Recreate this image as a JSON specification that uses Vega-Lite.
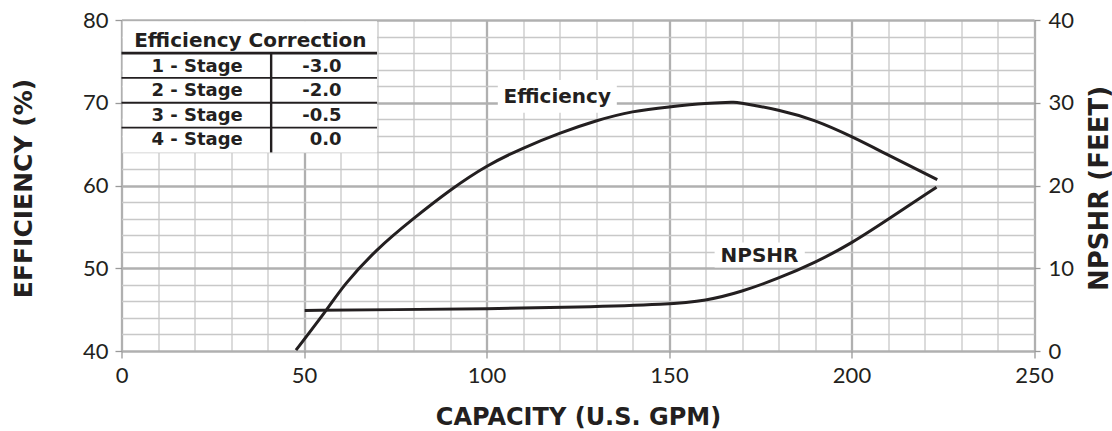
{
  "$schema": "https://vega.github.io/schema/vega-lite/v6.json",
  "width": 912.5,
  "height": 331,
  "autosize": {"type": "none"},
  "padding": {"left": 121.5, "top": 20, "right": 78, "bottom": 80},
  "background": "white",
  "config": {
    "view": {"stroke": null},
    "text": {"font": "DejaVu Sans", "fontWeight": "bold", "color": "#231f20"}
  },
  "datasets": {
    "efficiency": [
      {"gpm": 47.8, "eff": 40.1},
      {"gpm": 56.2, "eff": 45.0},
      {"gpm": 61.6, "eff": 48.2},
      {"gpm": 70, "eff": 52.2},
      {"gpm": 80, "eff": 56.0},
      {"gpm": 90, "eff": 59.4},
      {"gpm": 100, "eff": 62.3},
      {"gpm": 110, "eff": 64.5},
      {"gpm": 120, "eff": 66.3},
      {"gpm": 130, "eff": 67.8},
      {"gpm": 140, "eff": 68.9},
      {"gpm": 150, "eff": 69.5},
      {"gpm": 160, "eff": 69.9},
      {"gpm": 167, "eff": 70.05},
      {"gpm": 170, "eff": 69.95},
      {"gpm": 180, "eff": 69.1},
      {"gpm": 190, "eff": 67.8},
      {"gpm": 200, "eff": 65.9},
      {"gpm": 210, "eff": 63.7},
      {"gpm": 223.5, "eff": 60.7}
    ],
    "npshr": [
      {"gpm": 50.2, "npshr": 4.9},
      {"gpm": 75, "npshr": 5.0},
      {"gpm": 100, "npshr": 5.1},
      {"gpm": 125, "npshr": 5.3},
      {"gpm": 150, "npshr": 5.65},
      {"gpm": 160, "npshr": 6.05},
      {"gpm": 170, "npshr": 7.17},
      {"gpm": 180, "npshr": 8.78},
      {"gpm": 190, "npshr": 10.67},
      {"gpm": 200, "npshr": 13.0},
      {"gpm": 210, "npshr": 15.9},
      {"gpm": 223.3, "npshr": 19.8}
    ],
    "table": [
      {"stage": "1 - Stage", "correction": "-3.0"},
      {"stage": "2 - Stage", "correction": "-2.0"},
      {"stage": "3 - Stage", "correction": "-0.5"},
      {"stage": "4 - Stage", "correction": "0.0"}
    ],
    "tableTitle": [{"title": "Efficiency Correction"}],
    "curveLabels": [{"label": "Efficiency"}, {"label": "NPSHR"}]
  },
  "layer": [
    {
      "resolve": {"axis": {"x": "independent", "y": "independent"}},
      "layer": [
        {
          "data": {"name": "efficiency"},
          "mark": {"type": "line", "interpolate": "natural", "color": "#231f20", "strokeWidth": 3},
          "encoding": {
            "x": {
              "field": "gpm", "type": "quantitative",
              "scale": {"domain": [0, 250], "nice": false, "zero": false},
              "axis": {
                "values": [0,10,20,30,40,50,60,70,80,90,100,110,120,130,140,150,160,170,180,190,200,210,220,230,240,250],
                "labelExpr": "datum.value % 50 === 0 ? datum.label : ''",
                "grid": true,
                "gridColor": {"condition": {"test": "datum.value % 50 === 0", "value": "#b0b0b0"}, "value": "#c8c8c8"},
                "gridWidth": {"condition": {"test": "datum.value % 50 === 0", "value": 2.3}, "value": 1.3},
                "tickOpacity": {"condition": {"test": "datum.value % 50 === 0", "value": 1}, "value": 0},
                "tickSize": 7, "tickColor": "#999999", "tickWidth": 1.3,
                "domain": false,
                "labelFont": "Lato", "labelFontSize": 22, "labelColor": "#231f20",
                "labelPadding": 7, "labelFlush": false, "labelOverlap": false,
                "title": "CAPACITY (U.S. GPM)",
                "titleFont": "DejaVu Sans", "titleFontWeight": "bold", "titleFontSize": 24, "titleColor": "#231f20",
                "titleX": 456.5, "titleY": 73, "titleAlign": "center", "titleBaseline": "alphabetic"
              }
            },
            "y": {
              "field": "eff", "type": "quantitative",
              "scale": {"domain": [40, 80], "nice": false, "zero": false},
              "axis": {
                "values": [40,42,44,46,48,50,52,54,56,58,60,62,64,66,68,70,72,74,76,78,80],
                "labelExpr": "datum.value % 10 === 0 ? datum.label : ''",
                "grid": true,
                "gridColor": {"condition": {"test": "datum.value % 10 === 0", "value": "#b0b0b0"}, "value": "#c8c8c8"},
                "gridWidth": {"condition": {"test": "datum.value % 10 === 0", "value": 2.3}, "value": 1.3},
                "tickOpacity": {"condition": {"test": "datum.value % 10 === 0", "value": 1}, "value": 0},
                "tickSize": 6.5, "tickColor": "#999999", "tickWidth": 1.3,
                "domain": false,
                "labelFont": "Lato", "labelFontSize": 22, "labelColor": "#231f20",
                "labelPadding": 7, "labelFlush": false, "labelOverlap": false,
                "title": "EFFICIENCY (%)",
                "titleFont": "DejaVu Sans", "titleFontWeight": "bold", "titleFontSize": 25, "titleColor": "#231f20",
                "titleX": -98, "titleY": 168, "titleAngle": 270, "titleAlign": "center", "titleBaseline": "middle"
              }
            }
          }
        },
        {
          "data": {"name": "tableTitle"},
          "layer": [
            {
              "mark": {"type": "rect", "color": "white"},
              "encoding": {
                "x": {"datum": 0.32, "axis": null}, "x2": {"datum": 70},
                "y": {"datum": 64, "axis": null}, "y2": {"datum": 79.86}
              }
            },
            {
              "mark": {"type": "rule", "color": "#231f20", "strokeWidth": 2.6},
              "encoding": {"x": {"datum": 0, "axis": null}, "x2": {"datum": 70}, "y": {"datum": 76, "axis": null}}
            },
            {
              "mark": {"type": "rule", "color": "#231f20", "strokeWidth": 1.8},
              "encoding": {"x": {"datum": 0, "axis": null}, "x2": {"datum": 70}, "y": {"datum": 73, "axis": null}}
            },
            {
              "mark": {"type": "rule", "color": "#231f20", "strokeWidth": 1.8},
              "encoding": {"x": {"datum": 0, "axis": null}, "x2": {"datum": 70}, "y": {"datum": 70, "axis": null}}
            },
            {
              "mark": {"type": "rule", "color": "#231f20", "strokeWidth": 1.8},
              "encoding": {"x": {"datum": 0, "axis": null}, "x2": {"datum": 70}, "y": {"datum": 67, "axis": null}}
            },
            {
              "mark": {"type": "rule", "color": "#231f20", "strokeWidth": 2.4},
              "encoding": {"x": {"datum": 41, "axis": null}, "y": {"datum": 64, "axis": null}, "y2": {"datum": 76}}
            },
            {
              "mark": {"type": "text", "fontSize": 20, "align": "center", "baseline": "alphabetic"},
              "encoding": {"x": {"datum": 35.3, "axis": null}, "y": {"datum": 76.7, "axis": null}, "text": {"field": "title"}}
            }
          ]
        },
        {
          "data": {"name": "table"},
          "transform": [{"filter": "datum.stage === '1 - Stage'"}],
          "layer": [
            {"mark": {"type": "text", "fontSize": 18, "align": "center", "baseline": "alphabetic"},
             "encoding": {"x": {"datum": 20.7, "axis": null}, "y": {"datum": 73.76, "axis": null}, "text": {"field": "stage"}}},
            {"mark": {"type": "text", "fontSize": 18, "align": "right", "baseline": "alphabetic"},
             "encoding": {"x": {"datum": 60.3, "axis": null}, "y": {"datum": 73.76, "axis": null}, "text": {"field": "correction"}}}
          ]
        },
        {
          "data": {"name": "table"},
          "transform": [{"filter": "datum.stage === '2 - Stage'"}],
          "layer": [
            {"mark": {"type": "text", "fontSize": 18, "align": "center", "baseline": "alphabetic"},
             "encoding": {"x": {"datum": 20.7, "axis": null}, "y": {"datum": 70.8, "axis": null}, "text": {"field": "stage"}}},
            {"mark": {"type": "text", "fontSize": 18, "align": "right", "baseline": "alphabetic"},
             "encoding": {"x": {"datum": 60.3, "axis": null}, "y": {"datum": 70.8, "axis": null}, "text": {"field": "correction"}}}
          ]
        },
        {
          "data": {"name": "table"},
          "transform": [{"filter": "datum.stage === '3 - Stage'"}],
          "layer": [
            {"mark": {"type": "text", "fontSize": 18, "align": "center", "baseline": "alphabetic"},
             "encoding": {"x": {"datum": 20.7, "axis": null}, "y": {"datum": 67.83, "axis": null}, "text": {"field": "stage"}}},
            {"mark": {"type": "text", "fontSize": 18, "align": "right", "baseline": "alphabetic"},
             "encoding": {"x": {"datum": 60.3, "axis": null}, "y": {"datum": 67.83, "axis": null}, "text": {"field": "correction"}}}
          ]
        },
        {
          "data": {"name": "table"},
          "transform": [{"filter": "datum.stage === '4 - Stage'"}],
          "layer": [
            {"mark": {"type": "text", "fontSize": 18, "align": "center", "baseline": "alphabetic"},
             "encoding": {"x": {"datum": 20.7, "axis": null}, "y": {"datum": 64.87, "axis": null}, "text": {"field": "stage"}}},
            {"mark": {"type": "text", "fontSize": 18, "align": "right", "baseline": "alphabetic"},
             "encoding": {"x": {"datum": 60.3, "axis": null}, "y": {"datum": 64.87, "axis": null}, "text": {"field": "correction"}}}
          ]
        },
        {
          "data": {"name": "curveLabels"},
          "transform": [{"filter": "datum.label === 'Efficiency'"}],
          "layer": [
            {
              "mark": {"type": "rect", "color": "white"},
              "encoding": {
                "x": {"datum": 103.1, "axis": null}, "x2": {"datum": 135.7},
                "y": {"datum": 68.8, "axis": null}, "y2": {"datum": 72.75}
              }
            },
            {
              "mark": {"type": "text", "fontSize": 20, "align": "center", "baseline": "alphabetic"},
              "encoding": {"x": {"datum": 119.4, "axis": null}, "y": {"datum": 69.95, "axis": null}, "text": {"field": "label"}}
            }
          ]
        },
        {
          "data": {"name": "curveLabels"},
          "transform": [{"filter": "datum.label === 'NPSHR'"}],
          "layer": [
            {
              "mark": {"type": "rect", "color": "white"},
              "encoding": {
                "x": {"datum": 162.5, "axis": null}, "x2": {"datum": 187.2},
                "y": {"datum": 50.1, "axis": null}, "y2": {"datum": 53.1}
              }
            },
            {
              "mark": {"type": "text", "fontSize": 20, "align": "center", "baseline": "alphabetic"},
              "encoding": {"x": {"datum": 174.8, "axis": null}, "y": {"datum": 50.8, "axis": null}, "text": {"field": "label"}}
            }
          ]
        }
      ]
    },
    {
      "data": {"name": "npshr"},
      "mark": {"type": "line", "interpolate": "basis", "color": "#231f20", "strokeWidth": 3},
      "encoding": {
        "x": {"field": "gpm", "type": "quantitative", "axis": null},
        "y": {
          "field": "npshr", "type": "quantitative",
          "scale": {"domain": [0, 40], "nice": false, "zero": false},
          "axis": {
            "orient": "right",
            "values": [0, 10, 20, 30, 40],
            "grid": false,
            "tickSize": 6, "tickColor": "#999999", "tickWidth": 1.3,
            "domain": false,
            "labelFont": "Lato", "labelFontSize": 22, "labelColor": "#231f20",
            "labelPadding": 8, "labelFlush": false, "labelOverlap": false,
            "title": "NPSHR (FEET)",
            "titleFont": "DejaVu Sans", "titleFontWeight": "bold", "titleFontSize": 26, "titleColor": "#231f20",
            "titleX": 65, "titleY": 168, "titleAngle": 270, "titleAlign": "center", "titleBaseline": "middle"
          }
        }
      }
    }
  ],
  "resolve": {"scale": {"y": "independent"}, "axis": {"x": "independent"}}
}
